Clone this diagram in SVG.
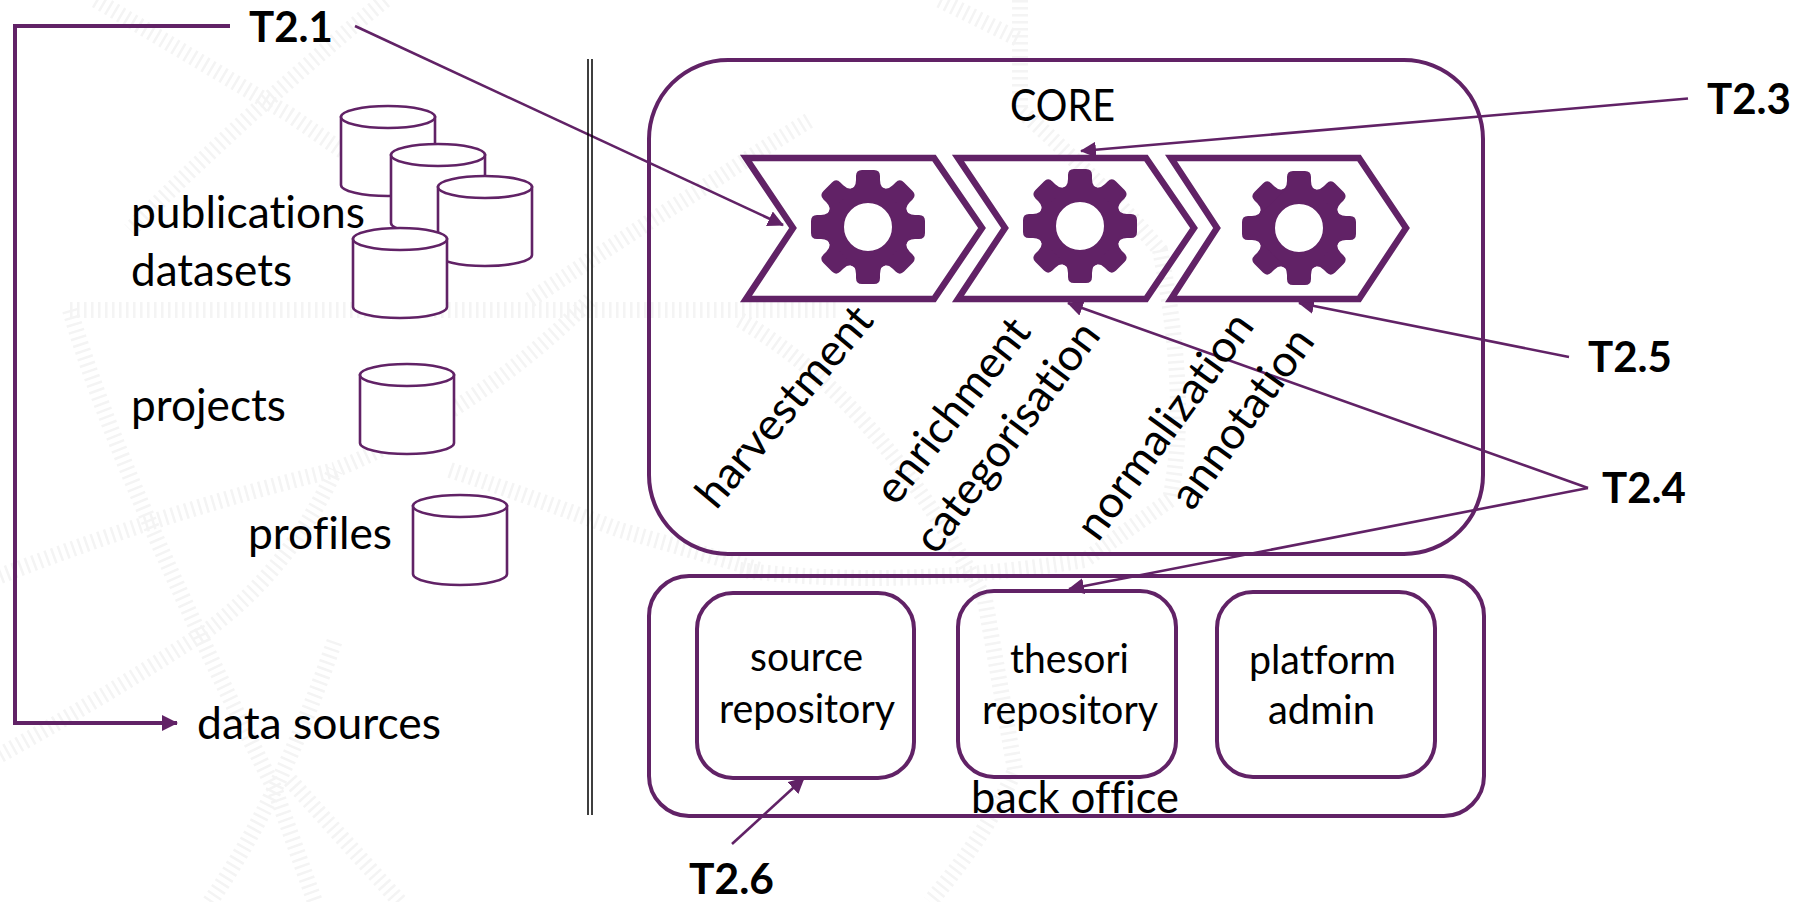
<svg xmlns="http://www.w3.org/2000/svg" xmlns:xlink="http://www.w3.org/1999/xlink" width="1802" height="902" viewBox="0 0 1802 902">
<style>
text{font-family:"Lato","Carlito","Open Sans",sans-serif;fill:#000;font-size:44px;font-variant-ligatures:none}
.b{font-weight:700;font-size:42px}
.s{font-size:40px}
.box{fill:none;stroke:#612266;stroke-width:4}
.cyl path{fill:#fff;stroke:#612266;stroke-width:2.6}
.chev{fill:none;stroke:#612266;stroke-width:6.500;stroke-miterlimit:10}
.con{fill:none;stroke:#612266;stroke-width:2.6}
.wm{fill:none;stroke:#f4f4f4;stroke-width:16;stroke-dasharray:2.5 4.5}
</style>
<defs>
<marker id="ah" markerUnits="userSpaceOnUse" markerWidth="16" markerHeight="16" refX="15" refY="8" orient="auto" viewBox="0 0 16 16"><path d="M0 0L16 8L0 16Z" fill="#612266"/></marker>
<g id="gear">
<circle r="33" fill="none" stroke="#612266" stroke-width="18"/>
<g fill="#612266">
<path id="t" d="M-19 -37Q-12 -39 -12 -47V-51Q-12 -57 -6 -57H6Q12 -57 12 -51V-47Q12 -39 19 -37Z"/>
<use xlink:href="#t" transform="rotate(45)"/><use xlink:href="#t" transform="rotate(90)"/><use xlink:href="#t" transform="rotate(135)"/><use xlink:href="#t" transform="rotate(180)"/><use xlink:href="#t" transform="rotate(225)"/><use xlink:href="#t" transform="rotate(270)"/><use xlink:href="#t" transform="rotate(315)"/>
</g>
</g>
<g id="cy" class="cyl"><path d="M0 11V79C0 85 21 90 47 90S94 85 94 79V11Z"/><path d="M0 11C0 5 21 0 47 0S94 5 94 11S73 22 47 22S0 17 0 11Z"/></g>
</defs>
<rect width="1802" height="902" fill="#fff"/>
<g id="watermark" class="wm">
<path d="M96 0L290 115Q400 190 470 240"/>
<path d="M385 0Q250 110 130 230"/>
<path d="M70 310H840"/>
<path d="M0 576Q170 510 335 470Q480 410 590 300"/>
<path d="M0 755Q100 700 205 632Q290 570 335 470"/>
<path d="M70 310Q120 480 275 790L315 902"/>
<path d="M210 902Q280 800 335 640"/>
<path d="M290 780L400 902"/>
<path d="M450 470Q540 500 620 530L760 570"/>
<path d="M530 300Q620 240 700 190Q760 150 810 120"/>
<path d="M740 320Q880 400 985 600L1015 770Q990 830 930 902"/>
<path d="M1020 0V110Q1100 180 1160 250Q1190 400 1170 500L1085 560Q900 590 740 570"/>
<path d="M940 0L1020 40"/>
</g>
<g id="connectors">
<path class="con" d="M230 26H15V723H177" style="stroke-width:4" marker-end="url(#ah)"/>
<path class="con" d="M355 26L783 225" marker-end="url(#ah)"/>
<path class="con" d="M1688 98.500L1081 151" marker-end="url(#ah)"/>
<path class="con" d="M1569 357L1299 303" marker-end="url(#ah)"/>
<path class="con" d="M1588 488L1068 303" marker-end="url(#ah)"/>
<path class="con" d="M1588 488L1069 589" marker-end="url(#ah)"/>
<path class="con" d="M732 844L804 778" marker-end="url(#ah)"/>
<path d="M588 59V815M592 59V815" fill="none" stroke="#000" stroke-width="1.500"/>
</g>
<g id="n-sources">
<use xlink:href="#cy" x="341" y="106"/>
<use xlink:href="#cy" x="391" y="144"/>
<use xlink:href="#cy" x="438" y="176"/>
<use xlink:href="#cy" x="353" y="228"/>
<use xlink:href="#cy" x="360" y="364"/>
<use xlink:href="#cy" x="413" y="495"/>
<text x="131" y="228" textLength="234" lengthAdjust="spacingAndGlyphs">publications</text>
<text x="131" y="286" textLength="161" lengthAdjust="spacingAndGlyphs">datasets</text>
<text x="131" y="421" textLength="155" lengthAdjust="spacingAndGlyphs">projects</text>
<text x="248" y="549" textLength="144" lengthAdjust="spacingAndGlyphs">profiles</text>
<text x="197" y="739" textLength="244" lengthAdjust="spacingAndGlyphs">data sources</text>
</g>
<g id="n-core">
<rect class="box" x="649" y="60" width="834" height="494" rx="79" ry="79"/>
<text x="1010" y="121" textLength="105" lengthAdjust="spacingAndGlyphs">CORE</text>
</g>
<g id="n-harvest">
<path class="chev" d="M746 158H934L982 228L934 299H746L793 228Z"/>
<use xlink:href="#gear" x="868" y="227"/>
<text transform="translate(716 511) rotate(-50)" textLength="248" lengthAdjust="spacingAndGlyphs">harvestment</text>
</g>
<g id="n-enrich">
<path class="chev" d="M958 158H1146L1194 228L1146 299H958L1005 228Z"/>
<use xlink:href="#gear" x="1080" y="226"/>
<text transform="translate(896 507) rotate(-52)" textLength="222" lengthAdjust="spacingAndGlyphs">enrichment</text>
<text transform="translate(936 556) rotate(-53)" textLength="276" lengthAdjust="spacingAndGlyphs">categorisation</text>
</g>
<g id="n-norm">
<path class="chev" d="M1171 158H1359L1406 228L1359 299H1171L1217 228Z"/>
<use xlink:href="#gear" x="1299" y="228"/>
<text transform="translate(1098 543) rotate(-54)" textLength="268" lengthAdjust="spacingAndGlyphs">normalization</text>
<text transform="translate(1192 512) rotate(-54)" textLength="211" lengthAdjust="spacingAndGlyphs">annotation</text>
</g>
<g id="n-backoffice">
<rect class="box" x="649" y="576" width="835" height="240" rx="40" ry="40"/>
<text x="971" y="813" textLength="208" lengthAdjust="spacingAndGlyphs">back office</text>
</g>
<g id="n-source">
<rect class="box" x="697" y="593" width="217" height="185" rx="36"/>
<text class="s" x="750" y="671" textLength="113" lengthAdjust="spacingAndGlyphs">source</text>
<text class="s" x="719" y="723" textLength="176" lengthAdjust="spacingAndGlyphs">repository</text>
</g>
<g id="n-thesori">
<rect class="box" x="958" y="591" width="218" height="186" rx="36"/>
<text class="s" x="1010" y="673" textLength="119" lengthAdjust="spacingAndGlyphs">thesori</text>
<text class="s" x="982" y="724" textLength="176" lengthAdjust="spacingAndGlyphs">repository</text>
</g>
<g id="n-platform">
<rect class="box" x="1217" y="592" width="218" height="185" rx="36"/>
<text class="s" x="1249" y="674" textLength="147" lengthAdjust="spacingAndGlyphs">platform</text>
<text class="s" x="1268" y="724" textLength="107" lengthAdjust="spacingAndGlyphs">admin</text>
</g>
<g id="labels">
<text class="b" x="249" y="42" textLength="84" lengthAdjust="spacingAndGlyphs">T2.1</text>
<text class="b" x="1707" y="114" textLength="84" lengthAdjust="spacingAndGlyphs">T2.3</text>
<text class="b" x="1588" y="372" textLength="84" lengthAdjust="spacingAndGlyphs">T2.5</text>
<text class="b" x="1602" y="503" textLength="84" lengthAdjust="spacingAndGlyphs">T2.4</text>
<text class="b" x="689" y="893.500" textLength="85" lengthAdjust="spacingAndGlyphs">T2.6</text>
</g>
</svg>
